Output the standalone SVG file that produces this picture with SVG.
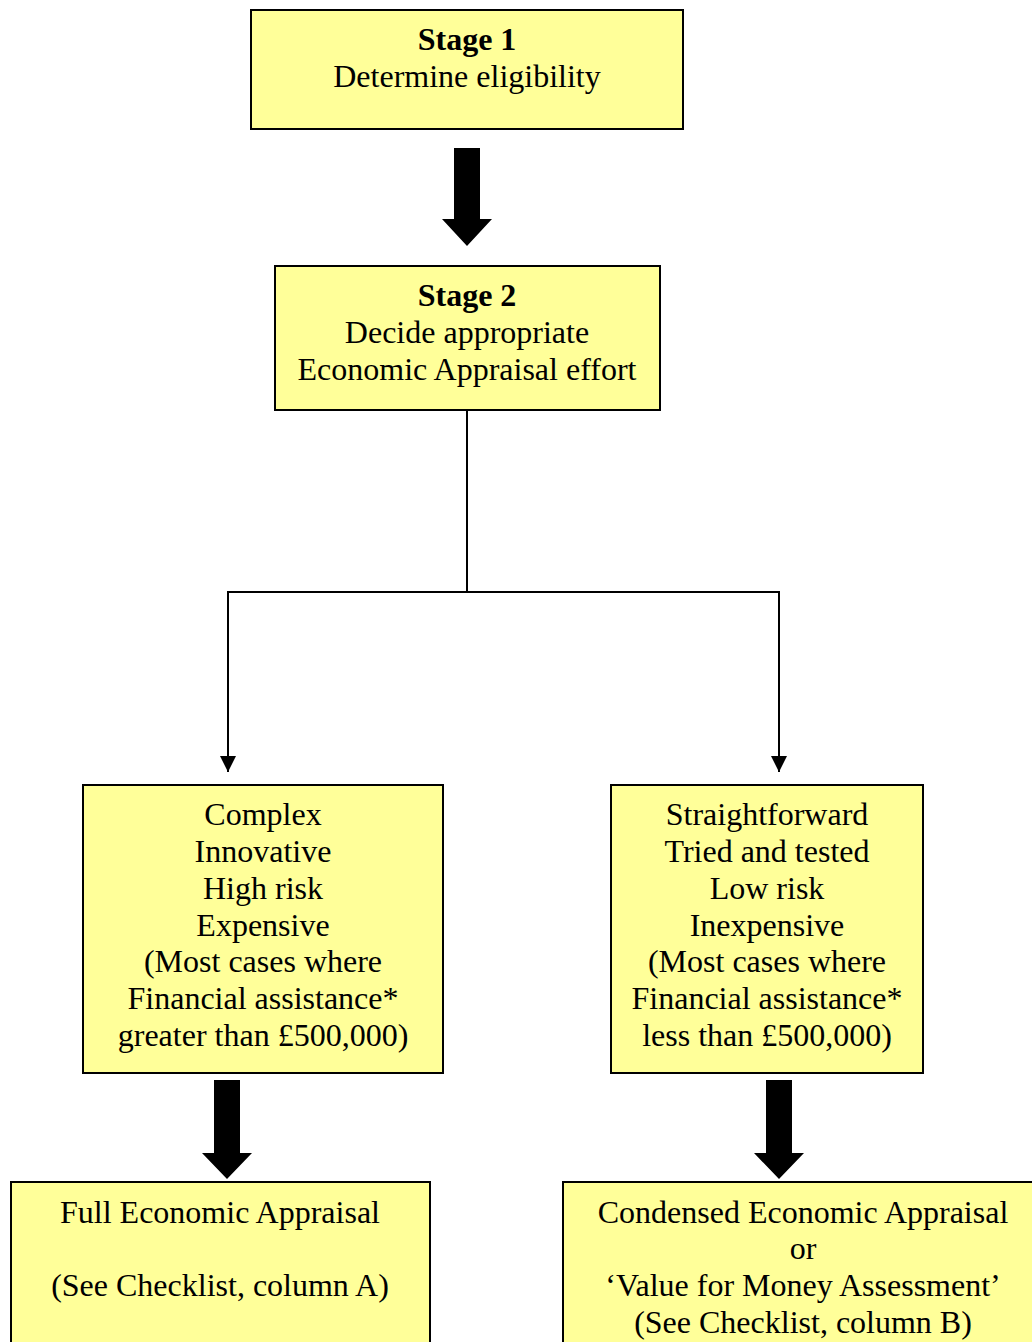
<svg xmlns="http://www.w3.org/2000/svg" width="1032" height="1342" viewBox="0 0 1032 1342">
<style>
.box{fill:#FFFF99;stroke:#000;stroke-width:2}
text{font-family:"Liberation Serif","Times New Roman",serif;font-size:32px;fill:#000;text-anchor:middle}
.b{font-weight:bold}
.thin{stroke:#000;stroke-width:2;fill:none}
</style>
<defs>
<marker id="ah" markerWidth="16" markerHeight="16" refX="16" refY="8" orient="auto" markerUnits="userSpaceOnUse" viewBox="0 0 16 16">
<path d="M0,0 L16,8 L0,16 Z" fill="#000"/>
</marker>
</defs>
<g id="stage1">
<rect class="box" x="251" y="10" width="432" height="119"/>
<text class="b" x="467" y="50">Stage 1</text>
<text x="467" y="87">Determine eligibility</text>
</g>
<g id="stage2">
<rect class="box" x="275" y="266" width="385" height="144"/>
<text class="b" x="467" y="306">Stage 2</text>
<text x="467" y="343">Decide appropriate</text>
<text x="467" y="380">Economic Appraisal effort</text>
</g>
<g id="complex">
<rect class="box" x="83" y="785" width="360" height="288"/>
<text x="263" y="825">Complex</text>
<text x="263" y="862">Innovative</text>
<text x="263" y="899">High risk</text>
<text x="263" y="936">Expensive</text>
<text x="263" y="972">(Most cases where</text>
<text x="263" y="1009">Financial assistance*</text>
<text x="263" y="1046">greater than £500,000)</text>
</g>
<g id="simple">
<rect class="box" x="611" y="785" width="312" height="288"/>
<text x="767" y="825">Straightforward</text>
<text x="767" y="862">Tried and tested</text>
<text x="767" y="899">Low risk</text>
<text x="767" y="936">Inexpensive</text>
<text x="767" y="972">(Most cases where</text>
<text x="767" y="1009">Financial assistance*</text>
<text x="767" y="1046">less than £500,000)</text>
</g>
<g id="full">
<rect class="box" x="11" y="1182" width="419" height="170"/>
<text x="220" y="1223">Full Economic Appraisal</text>
<text x="220" y="1296">(See Checklist, column A)</text>
</g>
<g id="condensed">
<rect class="box" x="563" y="1182" width="480" height="170"/>
<text x="803" y="1223">Condensed Economic Appraisal</text>
<text x="803" y="1259">or</text>
<text x="803" y="1296">‘Value for Money Assessment’</text>
<text x="803" y="1333">(See Checklist, column B)</text>
</g>
<g id="connectors">
<path d="M454,148 H480 V219 H492 L467,246 L442,219 H454 Z" fill="#000"/>
<path d="M214,1080 H240 V1153 H252 L227,1179 L202,1153 H214 Z" fill="#000"/>
<path d="M766,1080 H792 V1153 H804 L779,1179 L754,1153 H766 Z" fill="#000"/>
<path class="thin" d="M467,410 V592"/>
<path class="thin" d="M467,592 H228 V772" marker-end="url(#ah)"/>
<path class="thin" d="M467,592 H779 V772" marker-end="url(#ah)"/>
</g>
</svg>
